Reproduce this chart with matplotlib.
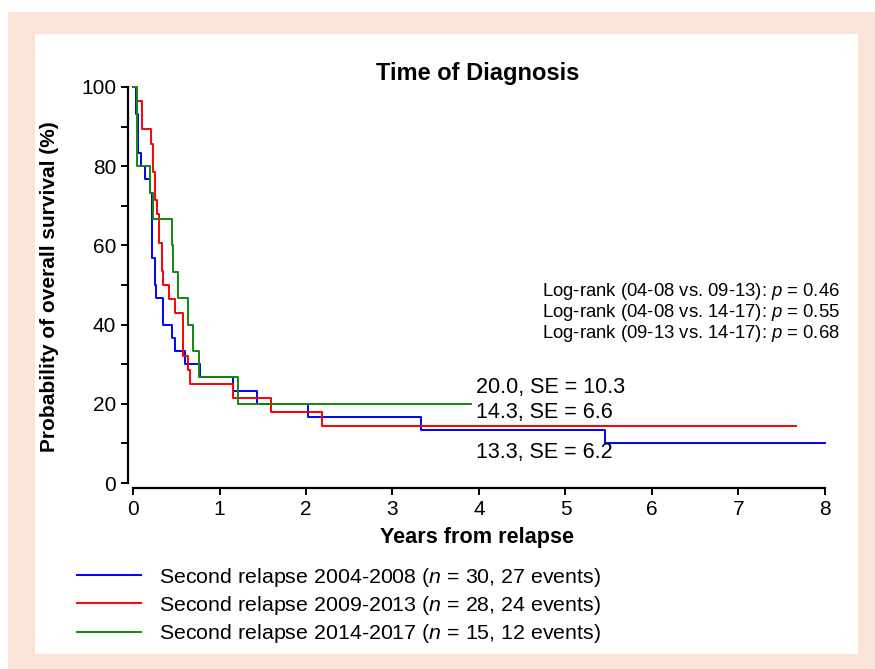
import matplotlib
matplotlib.use("Agg")
import matplotlib.pyplot as plt
from matplotlib.patches import Rectangle
from matplotlib.ticker import MultipleLocator

plt.rcParams['font.family'] = ['Liberation Sans', 'DejaVu Sans']
plt.rcParams['mathtext.fontset'] = 'custom'
plt.rcParams['mathtext.it'] = 'Liberation Sans:italic'
plt.rcParams['mathtext.rm'] = 'Liberation Sans'

# step times (years) and survival (%) after each step, last entry = end of follow-up
t_0408 = [0, 0.04, 0.06, 0.09, 0.14, 0.20, 0.22, 0.25, 0.27, 0.35, 0.45, 0.49, 0.60,
          0.77, 1.16, 1.43, 2.02, 3.33, 5.46, 8.0]
s_0408 = [100, 93.3, 83.3, 80.0, 76.7, 73.3, 56.7, 50.0, 46.7, 40.0, 36.7, 33.3, 30.0,
          26.7, 23.3, 20.0, 16.7, 13.3, 10.0, 10.0]

t_0913 = [0, 0.05, 0.10, 0.21, 0.23, 0.25, 0.28, 0.30, 0.33, 0.35, 0.42, 0.49, 0.58,
          0.63, 0.66, 1.16, 1.60, 2.19, 7.67]
s_0913 = [100, 96.4, 89.3, 85.7, 78.6, 71.4, 67.9, 60.7, 53.6, 50.0, 46.4, 42.9, 32.1,
          28.6, 25.0, 21.4, 17.9, 14.3, 14.3]

t_1417 = [0, 0.05, 0.20, 0.23, 0.45, 0.46, 0.52, 0.64, 0.69, 0.76, 1.21, 3.91]
s_1417 = [100, 80.0, 73.3, 66.7, 60.0, 53.3, 46.7, 40.0, 33.3, 26.7, 20.0, 20.0]

labels = ["Second relapse 2004-2008 ($\\it{n}$ = 30, 27 events)",
          "Second relapse 2009-2013 ($\\it{n}$ = 28, 24 events)",
          "Second relapse 2014-2017 ($\\it{n}$ = 15, 12 events)"]
colors = ['#0000ff', '#ff0000', '#118811']

estimates = ["20.0, SE = 10.3", "14.3, SE = 6.6", "13.3, SE = 6.2"]
est_y = [24.2, 17.7, 7.8]
logrank = ["Log-rank (04-08 vs. 09-13): $\\it{p}$ = 0.46",
           "Log-rank (04-08 vs. 14-17): $\\it{p}$ = 0.55",
           "Log-rank (09-13 vs. 14-17): $\\it{p}$ = 0.68"]

W, H = 875, 669
fig = plt.figure(figsize=(W / 100, H / 100), dpi=100)

# peach frame with white panel
fig.patches.append(Rectangle((8 / W, 0), 1 - 8 / W, 1 - 12 / H, transform=fig.transFigure,
                             facecolor='#fce3d7', edgecolor='none', zorder=-2))
fig.patches.append(Rectangle((35 / W, 1 - 654 / H), (858 - 35) / W, (654 - 34) / H,
                             transform=fig.transFigure, facecolor='white',
                             edgecolor='none', zorder=-1))

ax = fig.add_axes([128 / W, 1 - 488 / H, (826.7 - 128) / W, (488 - 85) / H])
ax.patch.set_alpha(0)

lines = []
for t, s, c in zip([t_0408, t_0913, t_1417], [s_0408, s_0913, s_1417], colors):
    ln, = ax.step(t, s, where='post', color=c, lw=1.4)
    lines.append(ln)

ax.set_xlim(-0.058, 8.02)
ax.set_ylim(-1.26, 100.5)
ax.spines['top'].set_visible(False)
ax.spines['right'].set_visible(False)
ax.spines['left'].set_bounds(0, 100)
ax.spines['bottom'].set_bounds(0, 8)
for sp in ['left', 'bottom']:
    ax.spines[sp].set_linewidth(1.6)

ax.xaxis.set_major_locator(MultipleLocator(1))
ax.yaxis.set_major_locator(MultipleLocator(20))
ax.yaxis.set_minor_locator(MultipleLocator(10))
ax.tick_params(axis='both', which='both', direction='out', width=1.4, labelsize=15)
ax.tick_params(axis='both', which='major', length=5)
ax.tick_params(axis='y', which='minor', length=5)

ax.set_xlabel("Years from relapse", fontsize=15.6, fontweight='bold', labelpad=6)
ax.set_ylabel("Probability of overall survival (%)", fontsize=15, fontweight='bold',
              labelpad=16)
ax.set_title("Time of Diagnosis", fontsize=17, fontweight='bold', pad=2)

for txt, y in zip(estimates, est_y):
    ax.text(3.97, y, txt, fontsize=15.5, ha='left', va='center')

for i, txt in enumerate(logrank):
    fig.text(840 / W, 1 - (292 + 20.5 * i) / H, txt, fontsize=13.3, ha='right', va='center')

fig.legend(lines, labels, loc='upper left', bbox_to_anchor=(68 / W, 1 - 557 / H),
           frameon=False, fontsize=15.4, handlelength=3.0, handletextpad=0.85,
           labelspacing=0.25, borderaxespad=0)

fig.savefig("out.png", dpi=100)
